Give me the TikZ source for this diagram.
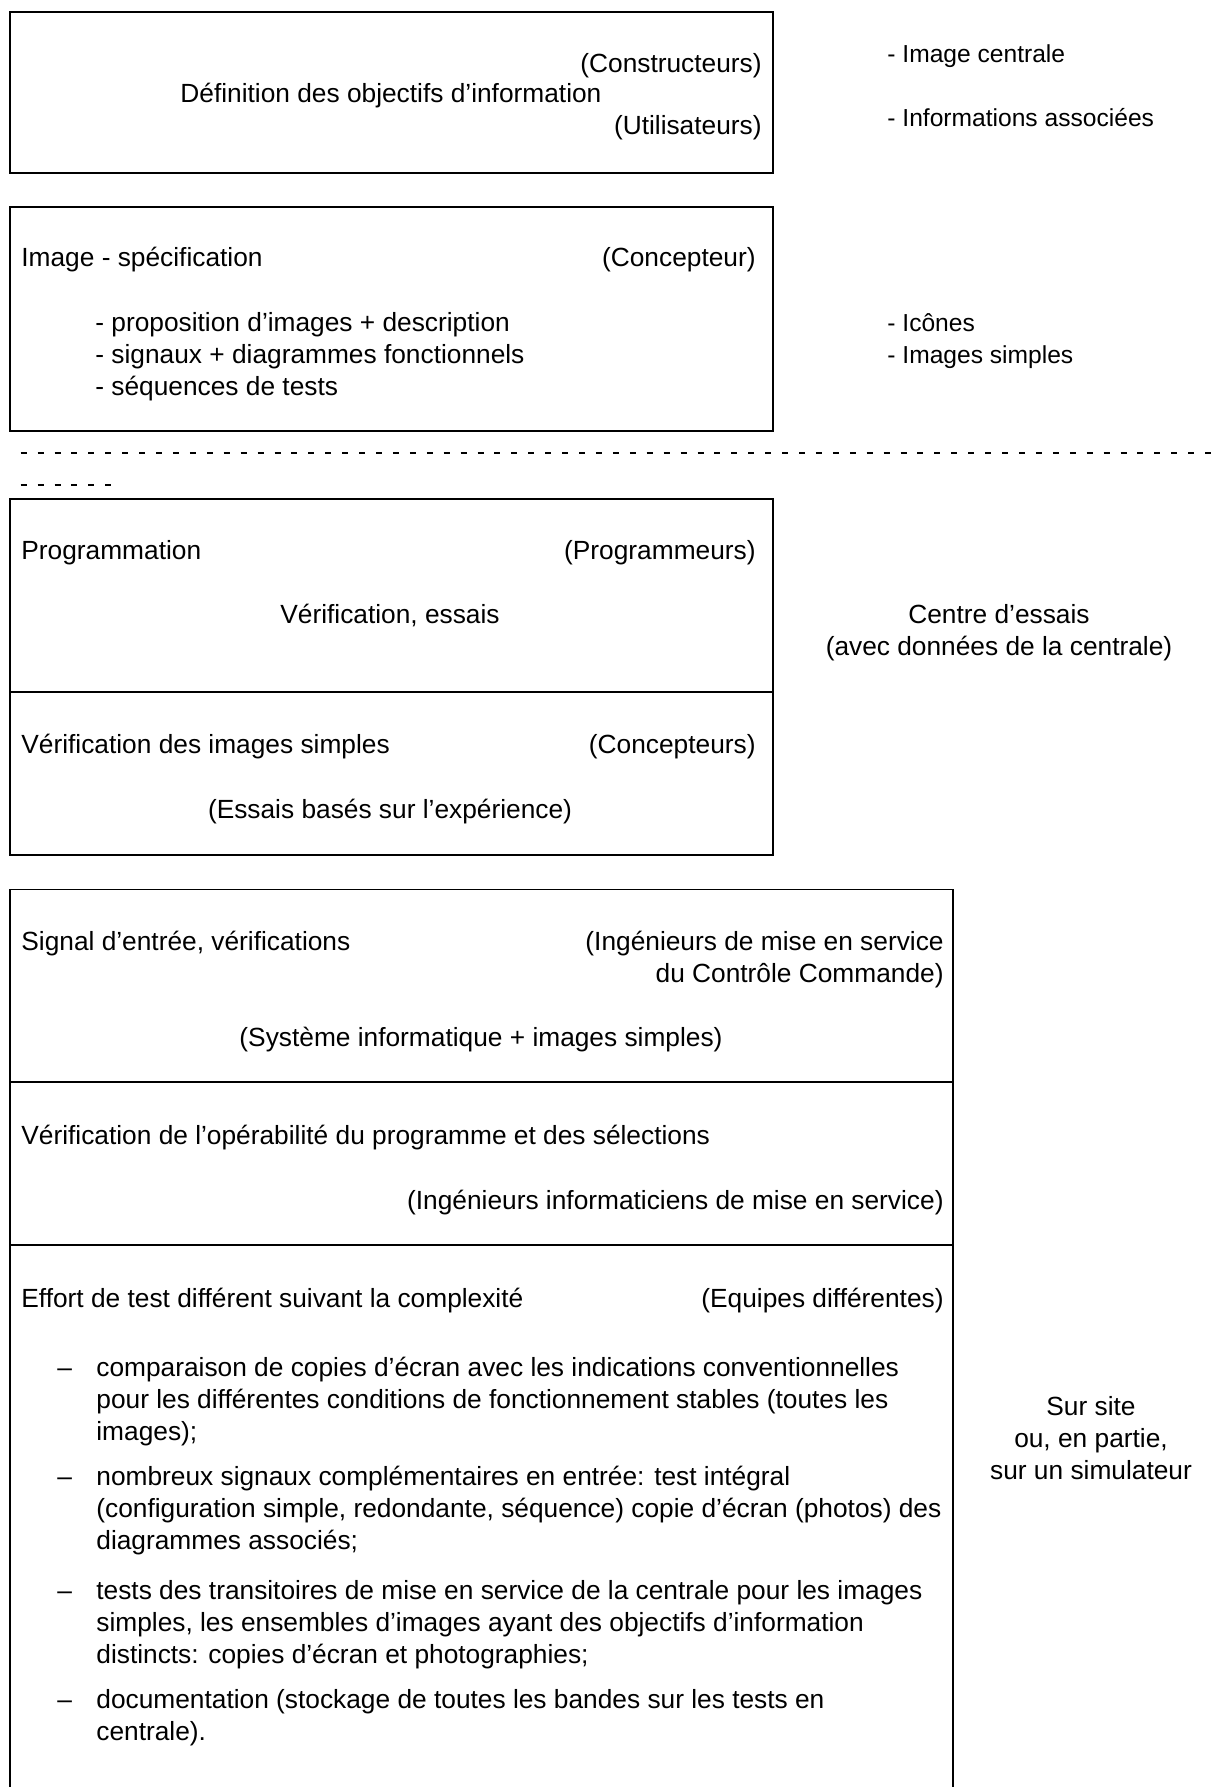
\documentclass[tikz,border=0pt]{standalone}
\usepackage{fontspec}
\setmainfont{Liberation Sans}
\begin{document}
\begin{tikzpicture}[x=0.5pt,y=-0.5pt,
  txt/.style={inner sep=0pt, font=\fontsize{13.15}{16}\selectfont},
  lt/.style={txt, anchor=base west},
  rt/.style={txt, anchor=base east},
  ct/.style={txt, anchor=base},
  side/.style={inner sep=0pt, anchor=base west, font=\fontsize{12.3}{16}\selectfont},
  frame/.style={draw, line width=1pt},
  thinframe/.style={draw, line width=0.7pt},
  sep/.style={line width=1pt, dash pattern=on 3pt off 5.46pt}]
\useasboundingbox (0,0) rectangle (1221,1787);
% boxes
\draw[frame] (10,12) rectangle (772.5,173);
\draw[frame] (10,207) rectangle (772.5,431);
\draw[frame] (10,499) rectangle (772.5,855);
\draw[frame] (10,692) -- (772.5,692);
\draw[thinframe] (10,1787) -- (10,889.5) -- (953,889.5) -- (953,1787);
\draw[thinframe] (10,1082) -- (953,1082);
\draw[thinframe] (10,1245) -- (953,1245);
% separator
\coordinate (s1a) at (20.7,453);
\coordinate (s1b) at (1212,453);
\coordinate (s2a) at (20.7,485);
\coordinate (s2b) at (111,485);
\draw[sep] (s1a) -- (s1b);
\draw[sep] (s2a) -- (s2b);
% box 1
\node[rt] (cons) at (762,72.5) {(Constructeurs)};
\node[lt] (def) at (180,102.5) {Définition des objectifs d’information};
\node[rt] (util) at (762,134.5) {(Utilisateurs)};
\node[side] (r1) at (887,62.5) {- Image centrale};
\node[side] (r2) at (887,126.5) {- Informations associées};
% box 2
\node[lt] (imspec) at (21,266.5) {Image - spécification};
\node[rt] (concp) at (756,266.5) {(Concepteur)};
\node[lt] (b21) at (95,331.5) {- proposition d’images + description};
\node[lt] (b22) at (95,363.5) {- signaux + diagrammes fonctionnels};
\node[lt] (b23) at (95,395.5) {- séquences de tests};
\node[side] (r3) at (887,331.5) {- Icônes};
\node[side] (r4) at (887,363.5) {- Images simples};
% box 3
\node[lt] (prog) at (21,559.5) {Programmation};
\node[rt] (progs) at (756,559.5) {(Programmeurs)};
\node[ct] (verif) at (390,623.5) {Vérification, essais};
\node[ct] (centre) at (999,623.5) {Centre d’essais};
\node[ct] (avec) at (999,655.5) {(avec données de la centrale)};
\node[lt] (vis) at (21,753.5) {Vérification des images simples};
\node[rt] (concs) at (756,753.5) {(Concepteurs)};
\node[ct] (essais) at (390,818.5) {(Essais basés sur l’expérience)};
% box 4
\node[lt] (sig) at (21,950.5) {Signal d’entrée, vérifications};
\node[rt] (ing1) at (944,950.5) {(Ingénieurs de mise en service};
\node[rt] (ing2) at (944,982.5) {du Contrôle Commande)};
\node[ct] (sys) at (481,1046.5) {(Système informatique + images simples)};
\node[lt] (vop) at (21,1144.5) {Vérification de l’opérabilité du programme et des sélections};
\node[rt] (ingi) at (944,1209.5) {(Ingénieurs informaticiens de mise en service)};
\node[lt] (eff) at (21,1307.5) {Effort de test différent suivant la complexité};
\node[rt] (equ) at (944,1307.5) {(Equipes différentes)};
% items
\node[lt] (d1) at (57,1376.5) {–};
\node[lt] (i1a) at (96,1376.5) {comparaison de copies d’écran avec les indications conventionnelles};
\node[lt] (i1b) at (96,1408.5) {pour les différentes conditions de fonctionnement stables (toutes les};
\node[lt] (i1c) at (96,1440.5) {images);};
\node[lt] (d2) at (57,1485.5) {–};
\node[lt] (i2a) at (96,1485.5) {nombreux signaux complémentaires en entrée: test intégral};
\node[lt] (i2b) at (96,1517.5) {(configuration simple, redondante, séquence) copie d’écran (photos) des};
\node[lt] (i2c) at (96,1549.5) {diagrammes associés;};
\node[lt] (d3) at (57,1599.5) {–};
\node[lt] (i3a) at (96,1599.5) {tests des transitoires de mise en service de la centrale pour les images};
\node[lt] (i3b) at (96,1631.5) {simples, les ensembles d’images ayant des objectifs d’information};
\node[lt] (i3c) at (96,1663.5) {distincts: copies d’écran et photographies;};
\node[lt] (d4) at (57,1708.5) {–};
\node[lt] (i4a) at (96,1708.5) {documentation (stockage de toutes les bandes sur les tests en};
\node[lt] (i4b) at (96,1740.5) {centrale).};
% right of box 4
\node[ct] (site1) at (1091,1415.5) {Sur site};
\node[ct] (site2) at (1091,1447.5) {ou, en partie,};
\node[ct] (site3) at (1091,1479.5) {sur un simulateur};
\end{tikzpicture}
\end{document}
